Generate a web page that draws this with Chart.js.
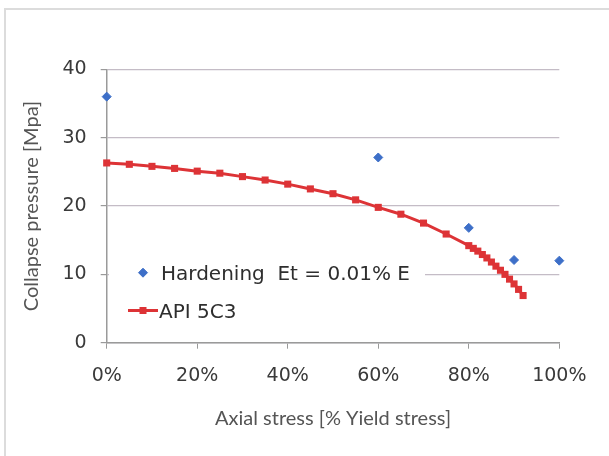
<!DOCTYPE html>
<html>
<head>
<meta charset="utf-8">
<title>Collapse pressure vs axial stress</title>
<script src="https://cdn.jsdelivr.net/npm/chart.js@4.4.1/dist/chart.umd.min.js"></script>
<style>
    body { margin: 0; background: #fff; }
    #wrap { position: relative; width: 609px; height: 456px; overflow: hidden; }
    #frame {
        position: absolute; left: 4px; top: 8px; width: 700px; height: 600px;
        border-left: 2px solid #dcdcdc; border-top: 2px solid #dcdcdc;
    }
    canvas { position: absolute; left: 0; top: 0; }
</style>
</head>
<body>
<div id="wrap">
    <div id="frame"></div>
    <canvas id="chart" width="609" height="456"></canvas>
</div>
<script>
// Hardening (FE results), x in % of yield stress
const hardeningX = [0, 60, 80, 90, 100];
const hardeningY = [36.0, 27.1, 16.8, 12.1, 12.0];

// API 5C3 curve
const apiX = [0, 5, 10, 15, 20, 25, 30, 35, 40, 45, 50, 55, 60, 65, 70, 75,
              80, 81, 82, 83, 84, 85, 86, 87, 88, 89, 90, 91, 92];
const apiY = [26.3, 26.1, 25.8, 25.5, 25.1, 24.8, 24.3, 23.8, 23.2, 22.5, 21.8, 20.9, 19.8, 18.8, 17.5, 15.9,
              14.2, 13.8, 13.4, 12.9, 12.4, 11.8, 11.2, 10.6, 10.0, 9.3, 8.6, 7.8, 6.9];

const xTicks = [0, 20, 40, 60, 80, 100];
const yTicks = [0, 10, 20, 30, 40];

const seriesLabels = ['Hardening  Et = 0.01% E', 'API 5C3'];

const BLUE = '#3d6fc8';
const RED = '#dd3336';

function toPoints(xs, ys) {
    return xs.map((x, i) => ({ x: x, y: ys[i] }));
}

// legend drawn inside the plot, lower left, on a white box
const innerLegend = {
    id: 'innerLegend',
    afterDraw(chart) {
        const ctx = chart.ctx;
        const ds = chart.data.datasets;
        ctx.save();
        ctx.fillStyle = '#ffffff';
        ctx.fillRect(109, 258, 316, 70);

        ctx.font = '20px "DejaVu Sans"';
        ctx.textBaseline = 'alphabetic';
        ctx.textAlign = 'left';

        // diamond marker
        ctx.fillStyle = ds[0].pointBackgroundColor;
        ctx.strokeStyle = ds[0].pointBorderColor;
        ctx.lineWidth = 1;
        Chart.helpers.drawPoint(ctx, { pointStyle: 'rectRot', radius: 4.5, borderWidth: 1 }, 143, 272.7);
        ctx.fillStyle = '#2e2e2e';
        ctx.fillText(ds[0].label, 161, 280);

        // line + square marker
        ctx.strokeStyle = ds[1].borderColor;
        ctx.lineWidth = 3;
        ctx.beginPath();
        ctx.moveTo(128, 310.5);
        ctx.lineTo(158, 310.5);
        ctx.stroke();
        ctx.fillStyle = ds[1].pointBackgroundColor;
        ctx.fillRect(139.5, 307, 7, 7);
        ctx.fillStyle = '#2e2e2e';
        ctx.fillText(ds[1].label, 159, 317.5);
        ctx.restore();
    }
};

const ctx = document.getElementById('chart').getContext('2d');

new Chart(ctx, {
    type: 'scatter',
    data: {
        datasets: [
            {
                label: seriesLabels[0],
                data: toPoints(hardeningX, hardeningY),
                showLine: false,
                clip: false,
                pointStyle: 'rectRot',
                pointRadius: 4.5,
                pointBackgroundColor: BLUE,
                pointBorderColor: BLUE,
                pointBorderWidth: 1
            },
            {
                label: seriesLabels[1],
                data: toPoints(apiX, apiY),
                showLine: true,
                clip: false,
                borderColor: RED,
                borderWidth: 3,
                pointStyle: 'rect',
                pointRadius: 5,
                pointBackgroundColor: RED,
                pointBorderColor: RED,
                pointBorderWidth: 0
            }
        ]
    },
    options: {
        responsive: false,
        animation: false,
        events: [],
        layout: {
            padding: { left: 14, right: 49.7, top: 69.3, bottom: 0 }
        },
        plugins: {
            legend: { display: false },
            tooltip: { enabled: false }
        },
        scales: {
            x: {
                type: 'linear',
                min: 0,
                max: 100,
                afterBuildTicks: (scale) => { scale.ticks = xTicks.map(v => ({ value: v })); },
                afterFit: (scale) => { scale.height = 113.3; },
                ticks: {
                    callback: (v) => v + '%',
                    color: '#3a3a3a',
                    font: { family: '"DejaVu Sans"', size: 19 },
                    padding: 16,
                    maxRotation: 0
                },
                grid: {
                    drawOnChartArea: false,
                    drawTicks: true,
                    tickLength: 6,
                    tickColor: '#9a9a9a'
                },
                border: { color: '#9a9a9a', width: 1.5 },
                title: {
                    display: true,
                    text: 'Axial stress [% Yield stress]',
                    color: '#555555',
                    font: { family: 'Lato', size: 20 },
                    padding: { top: 0, bottom: 25 }
                }
            },
            y: {
                type: 'linear',
                min: 0,
                max: 40,
                afterBuildTicks: (scale) => { scale.ticks = yTicks.map(v => ({ value: v })); },
                afterFit: (scale) => { scale.width = 92.7; },
                ticks: {
                    color: '#3a3a3a',
                    font: { family: '"DejaVu Sans"', size: 19 },
                    padding: 14
                },
                grid: {
                    color: '#c4bcc6',
                    lineWidth: 1.2,
                    drawTicks: true,
                    tickLength: 6,
                    tickColor: '#9a9a9a'
                },
                border: { color: '#9a9a9a', width: 1.5 },
                title: {
                    display: true,
                    text: 'Collapse pressure [Mpa]',
                    color: '#555555',
                    font: { family: 'Lato', size: 20 },
                    padding: { top: 6, bottom: 0 }
                }
            }
        }
    },
    plugins: [innerLegend]
});
</script>
</body>
</html>
